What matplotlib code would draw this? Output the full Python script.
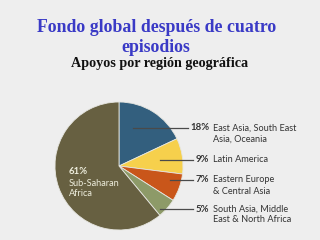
import matplotlib
matplotlib.use("Agg")
import matplotlib.pyplot as plt

# data
regions = [["East Asia, South East", "Asia, Oceania"],
           ["Latin America"],
           ["Eastern Europe", "& Central Asia"],
           ["South Asia, Middle", "East & North Africa"],
           ["Sub-Saharan", "Africa"]]
shares = [18, 9, 7, 5, 61]
colors = ["#335f7e", "#f6d04c", "#c9561a", "#8d9a68", "#676041"]

title = ["Fondo global después de cuatro", "episodios"]
subtitle = "Apoyos por región geográfica"

fig = plt.figure(figsize=(3.2, 2.4), dpi=100)
fig.patch.set_facecolor("#eeeeee")
ax = fig.add_axes([0, 0, 1, 1])
ax.set_facecolor("#eeeeee")

cx, cy, r = 119, 240 - 166, 64
ax.pie(shares, colors=colors, startangle=90, counterclock=False,
       center=(cx, cy), radius=r,
       wedgeprops=dict(edgecolor="#e6e6e0", linewidth=0.6))
ax.set_xlim(0, 320)
ax.set_ylim(0, 240)
ax.set_aspect("auto")
ax.axis("off")

fs = 6.6
lbl = "#333333"

# labels on the right, with leader lines
label_y = [240 - 128, 240 - 160, 240 - 180, 240 - 209]
line_x0 = [133, 160, 170, 160]
line_x1 = [188, 193, 193, 193]
for i in range(4):
    y = label_y[i]
    ax.plot([line_x0[i], line_x1[i]], [y, y], color="#4a4a4a", lw=0.9)
    ax.text(209.5, y, f"{shares[i]}%", ha="right", va="center",
            fontsize=6.9, fontweight="bold", color=lbl, family="Lato")
    for k, line in enumerate(regions[i]):
        ax.text(213, y - 11 * k, line, ha="left", va="center",
                fontsize=fs, color=lbl, family="Lato")

# big slice label inside the pie
inner = "#eeeedd"
ax.text(69, 240 - 172, f"{shares[4]}%", ha="left", va="center",
        fontsize=6.9, fontweight="bold", color=inner, family="Lato")
for k, line in enumerate(regions[4]):
    ax.text(69, 240 - 183 - 11 * k, line, ha="left", va="center",
            fontsize=fs, color=inner, family="Lato")

fig.text(0.488, 1 - 27 / 240, title[0], ha="center", va="center",
         fontsize=12.8, fontweight="bold", color="#3a3ac6", family="Liberation Serif")
fig.text(0.488, 1 - 48 / 240, title[1], ha="center", va="center",
         fontsize=12.8, fontweight="bold", color="#3a3ac6", family="Liberation Serif")
fig.text(0.5, 1 - 64 / 240, subtitle, ha="center", va="center",
         fontsize=10.2, fontweight="bold", color="#111111", family="Liberation Serif")

fig.savefig("out.png", dpi=100, facecolor=fig.get_facecolor())
